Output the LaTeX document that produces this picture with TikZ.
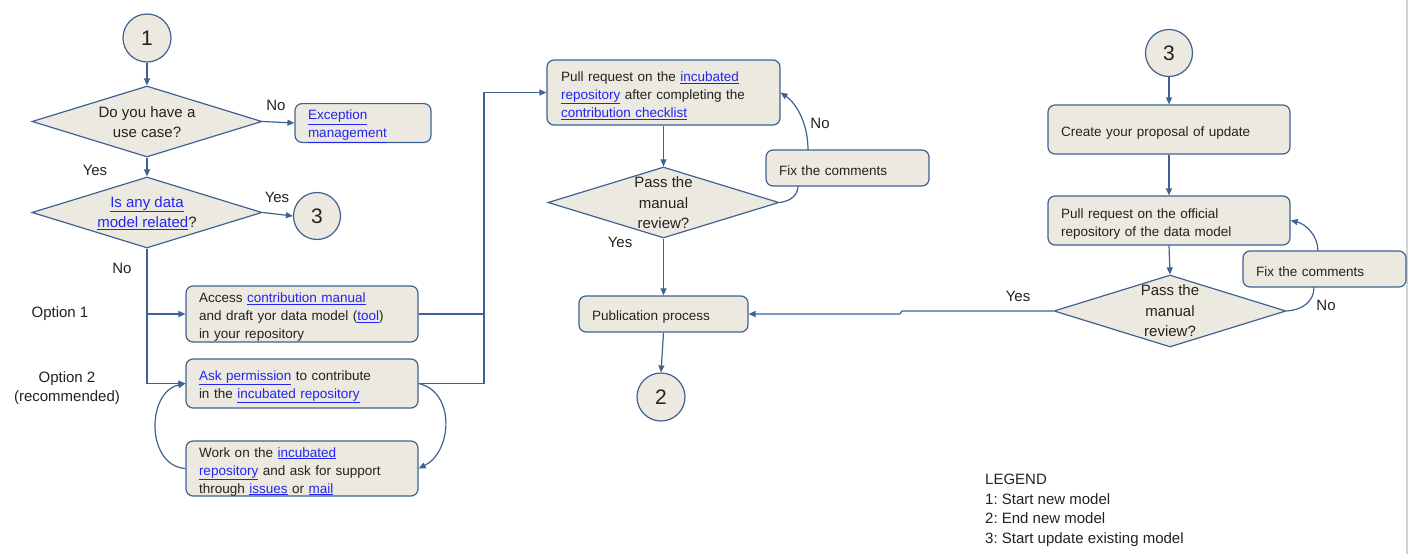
\documentclass[tikz,border=0pt]{standalone}
\usepackage{fontspec}
\setmainfont{Liberation Sans}
\frenchspacing
\usetikzlibrary{shapes.geometric,arrows.meta}
\definecolor{edge}{RGB}{62,98,146}
\definecolor{boxfill}{RGB}{236,234,224}
\definecolor{linkc}{RGB}{36,36,240}
\definecolor{txt}{RGB}{34,34,34}
\newcommand{\lk}[1]{\textcolor{linkc}{\underline{#1}}}
\tikzset{
  conn/.style={draw=edge, line width=1.2pt},
  arr/.style={conn, -{Triangle[length=7pt,width=6pt]}},
  procbox/.style={draw=edge, fill=boxfill, line width=1.2pt, rounded corners=7pt,
    inner xsep=13pt, inner ysep=0pt, align=left, text=txt,
    font=\fontsize{13.5}{18}\selectfont,
    execute at begin node={\rule{0pt}{16pt}}},
  decision/.style={diamond, draw=edge, fill=boxfill, line width=1.2pt, inner sep=0pt},
  dtext/.style={align=center, text=txt, font=\fontsize{15}{20.5}\selectfont},
  conncircle/.style={circle, draw=edge, fill=boxfill, line width=1.2pt, inner sep=0pt,
    text=txt, font=\fontsize{21}{24}\selectfont},
  lbl/.style={text=txt, font=\fontsize{15}{19.5}\selectfont, inner sep=0pt}
}
\begin{document}
\begin{tikzpicture}[x=1pt, y=-1pt]
\useasboundingbox (0,0) rectangle (1409,554);
\draw[gray!35, line width=2pt] (1407,0) -- (1407,554);

% ---- new model: entry and first decisions
\node[conncircle, minimum size=48pt] (c1) at (147,38) {1};
\node[decision, minimum width=230pt, minimum height=71pt] (q1) at (147,121.5) {};
\node[dtext] (q1t) at (147,122) {Do you have a\\use case?};
\node[procbox, text width=110pt, minimum height=36pt] (exc) at (363,123)
  {\lk{Exception}\\\lk{management}};
\node[decision, minimum width=230pt, minimum height=71pt] (q2) at (147,212.5) {};
\node[dtext] (q2t) at (147,213) {\lk{Is any data}\\\lk{model related}?};
\node[conncircle, minimum size=47pt] (c3a) at (317,216) {3};

% ---- options
\node[lbl] (opt1) at (60,314) {Option 1};
\node[lbl, align=center] (opt2) at (67,388) {Option 2\\(recommended)};
\node[procbox, text width=206pt, minimum height=56pt] (acc) at (302,314)
  {Access \lk{contribution manual}\\and draft yor data model (\lk{tool})\\in your repository};
\node[procbox, text width=206pt, minimum height=49pt] (ask) at (302,383.5)
  {\lk{Ask permission} to contribute\\in the \lk{incubated repository}};
\node[procbox, text width=206pt, minimum height=55pt] (work) at (302,468.5)
  {Work on the \lk{incubated}\\\lk{repository} and ask for support\\through \lk{issues} or \lk{mail}};

% ---- review of the incubated model
\node[procbox, text width=205pt, minimum height=65pt, inner xsep=14pt] (pr1) at (663.5,92.5)
  {Pull request on the \lk{incubated}\\\lk{repository} after completing the\\\lk{contribution checklist}};
\node[decision, minimum width=231pt, minimum height=71pt] (q3) at (663.5,202.5) {};
\node[dtext] (q3t) at (663.5,203) {Pass the\\manual\\review?};
\node[procbox, text width=137pt, minimum height=36pt] (fix1) at (847.5,168) {Fix the comments};
\node[procbox, text width=143pt, minimum height=36pt] (pub) at (663.5,314) {Publication process};
\node[conncircle, minimum size=48pt] (c2) at (661,397) {2};

% ---- update of an existing model
\node[conncircle, minimum size=47pt] (c3b) at (1169,53) {3};
\node[procbox, text width=216pt, minimum height=49pt] (create) at (1169,129.5)
  {Create your proposal of update};
\node[procbox, text width=216pt, minimum height=49pt] (pr2) at (1169,220.5)
  {Pull request on the official\\repository of the data model};
\node[decision, minimum width=232pt, minimum height=72pt] (q4) at (1170,311) {};
\node[dtext] (q4t) at (1170,311) {Pass the\\manual\\review?};
\node[procbox, text width=137pt, minimum height=36pt] (fix2) at (1324.5,269) {Fix the comments};

% ---- legend
\node[lbl, anchor=north west, align=left] (legend) at (985,474)
  {LEGEND\\1: Start new model\\2: End new model\\3: Start update existing model};

% ---- connectors
\draw[arr] (c1) -- (q1);
\draw[arr] (q1.east) -- (exc.west);
\node[lbl] (no1) at (276,105) {No};
\draw[arr] (q1.south) -- (q2.north);
\node[lbl] (yes1) at (95,170) {Yes};
\draw[arr] (q2.east) -- (c3a.west);
\node[lbl] (yes2) at (277,197) {Yes};
\draw[arr] (q2.south) |- (ask.west);
\draw[arr] (q2.south |- acc.west) -- (acc.west);
\node[lbl] (no2) at (122,268) {No};

\coordinate (join) at (484,314);
\draw[arr] (acc.east) -- (join) |- (pr1.west);
\draw[conn] (ask.east) -| (join);
\draw[arr] (ask.east) .. controls (456,392) and (452,452) .. (work.east);
\draw[arr] (work.west) .. controls (146,466) and (146,392) .. (ask.west);

\draw[arr] (pr1.south) -- (q3.north);
\draw[arr] (q3.south) -- (pub.north);
\node[lbl] (yes3) at (620,242) {Yes};
\coordinate (f1in) at (798,186);
\coordinate (f1out) at (808,150);
\draw[conn] (q3.east) .. controls (791,201) and (798,195) .. (f1in);
\draw[arr] (f1out) .. controls (808,124) and (797,104) .. (pr1.east);
\node[lbl] (no3) at (820,123) {No};
\draw[arr] (pub.south) -- (c2.north);

\draw[arr] (c3b.south) -- (create.north);
\draw[arr] (create.south) -- (pr2.north);
\draw[arr] (pr2.south) -- (q4.north);
\coordinate (f2in) at (1314,287);
\coordinate (f2out) at (1318,251);
\draw[conn] (q4.east) .. controls (1302,310) and (1314,302) .. (f2in);
\draw[arr] (f2out) .. controls (1318,236) and (1306,224) .. (pr2.east);
\node[lbl] (no4) at (1326,305) {No};
\coordinate (s1) at (902,311);
\coordinate (s2) at (900,314);
\draw[arr] (q4.west) -- (s1) -- (s2) -- (pub.east);
\node[lbl] (yes4) at (1018,296) {Yes};
\end{tikzpicture}
\end{document}
